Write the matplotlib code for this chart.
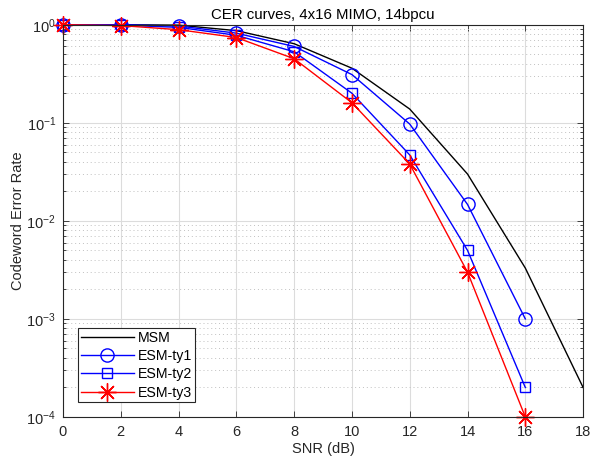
import numpy as np
import matplotlib
matplotlib.use("Agg")
import matplotlib.pyplot as plt
from matplotlib.ticker import LogLocator, NullFormatter, FixedLocator

plt.rcParams['font.family'] = ['Liberation Sans', 'DejaVu Sans']
plt.rcParams['mathtext.fontset'] = 'custom'
plt.rcParams['mathtext.rm'] = 'Liberation Sans'
plt.rcParams['mathtext.it'] = 'Liberation Sans:italic'

# SNR points and codeword error rates
snr_msm = [0, 2, 4, 6, 8, 10, 12, 14, 16, 18]
cer_msm = [1.0, 1.0, 0.99, 0.87, 0.64, 0.36, 0.138, 0.030, 0.0033, 2.0e-4]

snr_esm = [0, 2, 4, 6, 8, 10, 12, 14, 16]
cer_ty1 = [1.0, 1.0, 0.97, 0.82, 0.60, 0.31, 0.097, 0.0147, 1.0e-3]
cer_ty2 = [1.0, 0.99, 0.94, 0.78, 0.53, 0.20, 0.047, 0.005, 2.0e-4]
cer_ty3 = [1.0, 0.98, 0.89, 0.74, 0.45, 0.16, 0.038, 0.003, 1.0e-4]

x_ticks = [0, 2, 4, 6, 8, 10, 12, 14, 16, 18]

axc = '#262626'
fig = plt.figure(figsize=(5.92, 4.61), dpi=100)
ax = fig.add_axes([0.1064, 0.0954, 0.8786, 0.851])

ax.semilogy(snr_msm, cer_msm, '-', color='black', lw=1.0, label='MSM',
            clip_on=False)
ax.semilogy(snr_esm, cer_ty1, '-', color='#0000ff', lw=1.0, marker='o',
            ms=9.5, mfc='none', mec='#0000ff', mew=1.0, label='ESM-ty1',
            clip_on=False)
ax.semilogy(snr_esm, cer_ty2, '-', color='#0000ff', lw=1.0, marker='s',
            ms=7.5, mfc='none', mec='#0000ff', mew=1.0, label='ESM-ty2',
            clip_on=False)
ax.semilogy(snr_esm, cer_ty3, '-', color='#ff0000', lw=1.0, marker=(8, 2, 0),
            ms=13, mec='#ff0000', mew=1.0, label='ESM-ty3', clip_on=False)

ax.set_xlim(0, 18)
ax.set_ylim(1e-4, 1)
ax.xaxis.set_major_locator(FixedLocator(x_ticks))
ax.yaxis.set_major_locator(LogLocator(base=10, numticks=10))
ax.yaxis.set_minor_locator(LogLocator(base=10, subs=np.arange(2, 10), numticks=10))
ax.yaxis.set_minor_formatter(NullFormatter())

ax.grid(True, which='major', color='#dcdcdc', lw=0.8, ls='-')
ax.grid(True, which='minor', axis='y', color='#c0c0c0', lw=0.7, ls=(0, (1, 3)))
ax.set_axisbelow(True)

ax.tick_params(which='both', direction='in', top=True, right=True,
               colors=axc, labelsize=10.5, labelcolor=axc)
ax.tick_params(which='major', length=4, width=0.6)
ax.tick_params(axis='x', which='major', pad=6)
ax.tick_params(axis='y', which='major', pad=5)
ax.tick_params(which='minor', length=2.5, width=0.6)
for s in ax.spines.values():
    s.set_color(axc)
    s.set_linewidth(0.8)

ax.set_title('CER curves, 4x16 MIMO, 14bpcu', fontsize=10.8, color='black', pad=4)
ax.set_xlabel('SNR (dB)', fontsize=10.5, color=axc, labelpad=2)
ax.set_ylabel('Codeword Error Rate', fontsize=10.5, color=axc, labelpad=1)

leg = ax.legend(loc='lower left', bbox_to_anchor=(0.024, 0.03), fontsize=10.2,
                frameon=True, fancybox=False, framealpha=1, edgecolor=axc,
                handlelength=3.7, borderpad=0.2, labelspacing=0.3,
                handletextpad=0.3, borderaxespad=0.2)
leg.get_frame().set_linewidth(0.8)

fig.savefig('out.png', dpi=100)
